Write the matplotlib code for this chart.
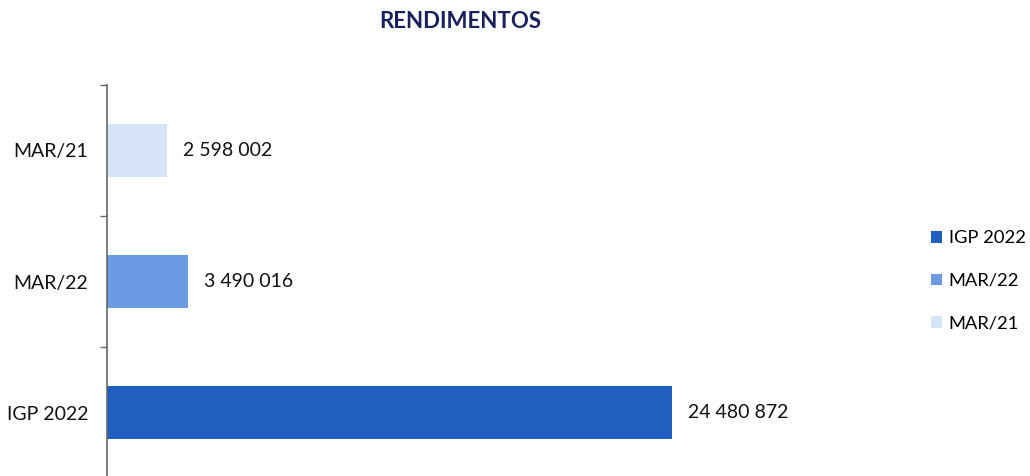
import matplotlib
matplotlib.use("Agg")
import matplotlib.pyplot as plt
from matplotlib.patches import Patch

categories = ["IGP 2022", "MAR/22", "MAR/21"]
values = [24480872, 3490016, 2598002]
labels = ["24 480 872", "3 490 016", "2 598 002"]
colors = ["#1F5FBF", "#6B9BE3", "#D6E4F8"]

plt.rcParams['font.family'] = ['Lato', 'DejaVu Sans']

W, H = 1030, 476
fig = plt.figure(figsize=(W / 100, H / 100), dpi=100)
ax_left, ax_top, ax_bottom = 107, 85, 478
ax_w = 700
ax = fig.add_axes([ax_left / W, (H - ax_bottom) / H, ax_w / W, (ax_bottom - ax_top) / H])

xmax = 24480872 * ax_w / 565
ypos = list(range(len(categories)))
ax.barh(ypos, values, height=0.4, color=colors, zorder=2)
ax.set_xlim(0, xmax)
ax.set_ylim(-0.5, len(categories) - 0.5)

for y, v, t in zip(ypos, values, labels):
    ax.annotate(t, (v, y), xytext=(16, 0), textcoords="offset pixels",
                va="center", ha="left", fontsize=14, color="#111111")

ax.set_yticks(ypos)
ax.set_yticklabels(categories, fontsize=14, color="#111111")
ax.set_yticks([-0.5, 0.5, 1.5, 2.5], minor=True)
ax.tick_params(axis="y", which="major", length=0, pad=13.5)
ax.tick_params(axis="y", which="minor", length=5, color="#666666", width=1)
ax.set_xticks([])
for s in ["top", "right", "bottom"]:
    ax.spines[s].set_visible(False)
ax.spines["left"].set_color("#666666")
ax.spines["left"].set_linewidth(1.2)

fig.text(460 / W, 1 - 21 / H, "RENDIMENTOS", ha="center", va="center",
         fontsize=16, fontweight="bold", color="#1A1F5E")

handles = [Patch(facecolor=c, edgecolor="none", label=l) for c, l in zip(colors, categories)]
fig.legend(handles=handles, loc="center left", bbox_to_anchor=(931 / W, 1 - 281 / H),
           frameon=False, fontsize=13.2, handlelength=0.62, handleheight=0.62,
           handletextpad=0.35, labelspacing=1.45, borderpad=0, borderaxespad=0)

fig.savefig("out.png", dpi=100)
